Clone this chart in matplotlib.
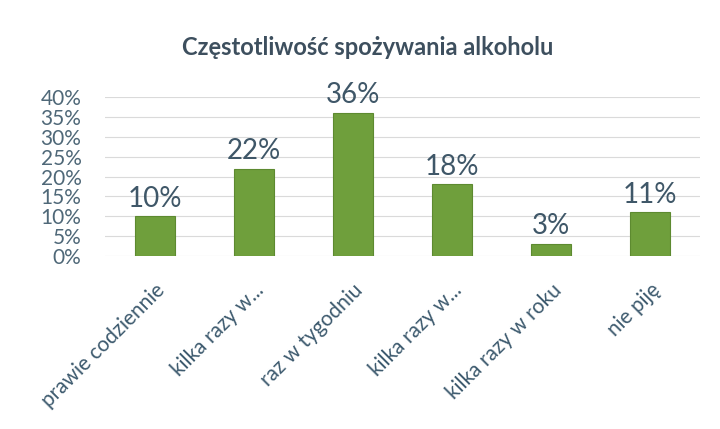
import matplotlib
matplotlib.use("Agg")
import matplotlib.pyplot as plt
from matplotlib.ticker import PercentFormatter, MultipleLocator

categories = ["prawie codziennie", "kilka razy w...", "raz w tygodniu",
              "kilka razy w...", "kilka razy w roku", "nie piję"]
values = [0.10, 0.22, 0.36, 0.18, 0.03, 0.11]
labels = ["10%", "22%", "36%", "18%", "3%", "11%"]
title = "Częstotliwość spożywania alkoholu"

plt.rcParams['font.family'] = ['Lato', 'DejaVu Sans']

fig = plt.figure(figsize=(7.2, 4.29), dpi=100)
ax = fig.add_axes([0.146, 0.403, 0.826, 0.371])
x = range(len(categories))
bars = ax.bar(x, values, width=0.4, color='#6f9f3c', edgecolor='#5d8a30', linewidth=0.8, zorder=3)
for b, lab in zip(bars, labels):
    ax.text(b.get_x() + b.get_width() / 2, b.get_height() + 0.012, lab,
            ha='center', va='bottom', fontsize=20, color='#3f5768')

ax.set_xlim(-0.5, len(categories) - 0.5)
ax.set_ylim(0, 0.4)
ax.yaxis.set_major_locator(MultipleLocator(0.05))
ax.yaxis.set_major_formatter(PercentFormatter(1.0, decimals=0))
ax.grid(axis='y', color='#dadada', linewidth=0.8, zorder=0)
for s in ax.spines.values():
    s.set_visible(False)
ax.tick_params(axis='both', length=0)
ax.tick_params(axis='y', labelsize=15, labelcolor='#4f6878', pad=17)
ax.set_xticks(list(x))
ax.set_xticklabels(categories, rotation=45, ha='right', rotation_mode='anchor',
                   fontsize=15, color='#3d5a6e')
ax.tick_params(axis='x', pad=17)
fig.text(0.51, 0.89, title, ha='center', va='center', fontsize=17,
         fontweight='bold', color='#3d4f5e')
fig.savefig('out.png', dpi=100)
